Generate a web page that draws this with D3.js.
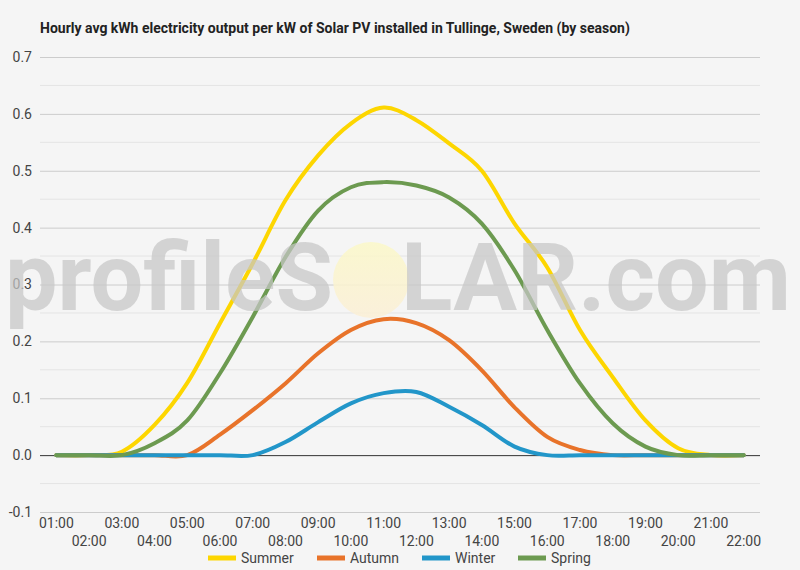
<!DOCTYPE html>
<html>
<head>
<meta charset="utf-8">
<script src="https://cdn.jsdelivr.net/npm/d3@7/dist/d3.min.js"></script>
<style>
  html, body { margin: 0; padding: 0; background: #f5f5f5; }
  svg { display: block; font-family: Roboto, "Noto Sans", sans-serif; }
</style>
</head>
<body>
<svg id="chart" width="800" height="570"></svg>
<script>
const hours = ["01:00","02:00","03:00","04:00","05:00","06:00","07:00","08:00","09:00","10:00","11:00",
               "12:00","13:00","14:00","15:00","16:00","17:00","18:00","19:00","20:00","21:00","22:00"];
const summer = [0, 0, 0.006, 0.053, 0.127, 0.232, 0.337, 0.448, 0.527, 0.583, 0.611,
                0.589, 0.548, 0.500, 0.407, 0.330, 0.220, 0.137, 0.061, 0.012, 0, 0];
const autumn = [0, 0, 0, 0, 0, 0.036, 0.079, 0.126, 0.179, 0.220, 0.239,
                0.232, 0.202, 0.149, 0.084, 0.032, 0.009, 0, 0, 0, 0, 0];
const winter = [0, 0, 0, 0, 0, 0, 0, 0.023, 0.058, 0.091, 0.109,
                0.111, 0.085, 0.053, 0.015, 0, 0, 0, 0, 0, 0, 0];
const spring = [0, 0, 0, 0.021, 0.061, 0.144, 0.243, 0.348, 0.430, 0.471, 0.480,
                0.474, 0.453, 0.407, 0.325, 0.220, 0.126, 0.056, 0.015, 0, 0, 0];
const seriesNames = ["Summer", "Autumn", "Winter", "Spring"];
const seriesColors = ["#fdd600", "#e8732a", "#2296c9", "#6c9a50"];
const yTicks = [-0.1, 0, 0.1, 0.2, 0.3, 0.4, 0.5, 0.6, 0.7];
const yMinorTicks = [-0.05, 0.05, 0.15, 0.25, 0.35, 0.45, 0.55, 0.65];
const title = "Hourly avg kWh electricity output per kW of Solar PV installed in Tullinge, Sweden (by season)";

const seriesValues = [summer, autumn, winter, spring];
const svg = d3.select("#chart");
const plotL = 40, plotR = 760, plotT = 57, plotB = 512;

const x = d3.scaleBand().domain(hours).range([plotL, plotR]);
const y = d3.scaleLinear().domain([-0.1, 0.7]).range([plotB, plotT]);
const xc = h => x(h) + x.bandwidth() / 2;

// title
svg.append("text").attr("x", 40).attr("y", 33)
  .attr("font-size", 14).attr("font-weight", "bold").attr("fill", "#222")
  .text(title);

// minor grid
svg.append("g").selectAll("line").data(yMinorTicks).join("line")
  .attr("x1", plotL).attr("x2", plotR)
  .attr("y1", d => y(d)).attr("y2", d => y(d))
  .attr("stroke", "#e4e4e4").attr("stroke-width", 1);

// major grid via axis
const yAxis = d3.axisLeft(y).tickValues(yTicks).tickFormat(d3.format(".1f"))
  .tickSize(-(plotR - plotL)).tickPadding(8);
const gy = svg.append("g").attr("transform", `translate(${plotL},0)`).call(yAxis);
gy.select(".domain").remove();
gy.selectAll(".tick line").attr("stroke", d => d === 0 ? "#333" : "#cccccc");
gy.selectAll(".tick text").attr("font-size", 14).attr("fill", "#444")
  .attr("font-family", "Roboto, sans-serif")
  .text(d => d < 0 ? "-" + Math.abs(d).toFixed(1) : d.toFixed(1));

// x axis labels (alternating rows)
const xAxis = d3.axisBottom(x).tickSize(0).tickPadding(0);
const gx = svg.append("g").attr("transform", `translate(0,${plotB})`).call(xAxis);
gx.select(".domain").remove();
gx.selectAll(".tick text").attr("font-size", 14).attr("fill", "#444")
  .attr("font-family", "Roboto, sans-serif")
  .attr("dy", null)
  .attr("y", (d, i) => i % 2 === 0 ? 16 : 34);

// lines
const line = d3.line()
  .x((d, i) => xc(hours[i]))
  .y(d => y(d))
  .curve(d3.curveCardinal.tension(0));
svg.append("g").selectAll("path").data(seriesValues).join("path")
  .attr("d", d => line(d))
  .attr("fill", "none")
  .attr("stroke", (d, i) => seriesColors[i])
  .attr("stroke-width", 4)
  .attr("stroke-linejoin", "round")
  .attr("stroke-linecap", "round");

// watermark
const wm = svg.append("g").attr("pointer-events", "none");
const grad = svg.append("defs").append("linearGradient").attr("id", "sun")
  .attr("x1", 0).attr("y1", 0).attr("x2", 0).attr("y2", 1);
grad.append("stop").attr("offset", "0%").attr("stop-color", "#fbf8c8");
grad.append("stop").attr("offset", "100%").attr("stop-color", "#fbefd6");
wm.append("text").attr("x", 5).attr("y", 310)
  .attr("font-family", "Roboto, sans-serif").attr("font-weight", 700)
  .attr("font-size", 94).attr("fill", "#c6c6c6").attr("fill-opacity", 0.72)
  .attr("textLength", 328).attr("lengthAdjust", "spacingAndGlyphs")
  .text("profileS");
wm.append("ellipse").attr("cx", 371).attr("cy", 280).attr("rx", 38).attr("ry", 38)
  .attr("fill", "url(#sun)").attr("fill-opacity", 0.85);
wm.append("text").attr("x", 401).attr("y", 310)
  .attr("font-family", "Roboto, sans-serif").attr("font-weight", 700)
  .attr("font-size", 94).attr("fill", "#c6c6c6").attr("fill-opacity", 0.72)
  .attr("textLength", 390).attr("lengthAdjust", "spacingAndGlyphs")
  .text("LAR.com");

// legend
const legendX = [208, 317, 422, 518];
const lg = svg.append("g").selectAll("g").data(seriesNames).join("g")
  .attr("transform", (d, i) => `translate(${legendX[i]},558)`);
lg.append("line").attr("x1", 0).attr("x2", 28).attr("y1", 0).attr("y2", 0)
  .attr("stroke", (d, i) => seriesColors[i]).attr("stroke-width", 5);
lg.append("text").attr("x", 33).attr("y", 5).attr("font-size", 14).attr("fill", "#444")
  .text(d => d);
</script>
</body>
</html>
